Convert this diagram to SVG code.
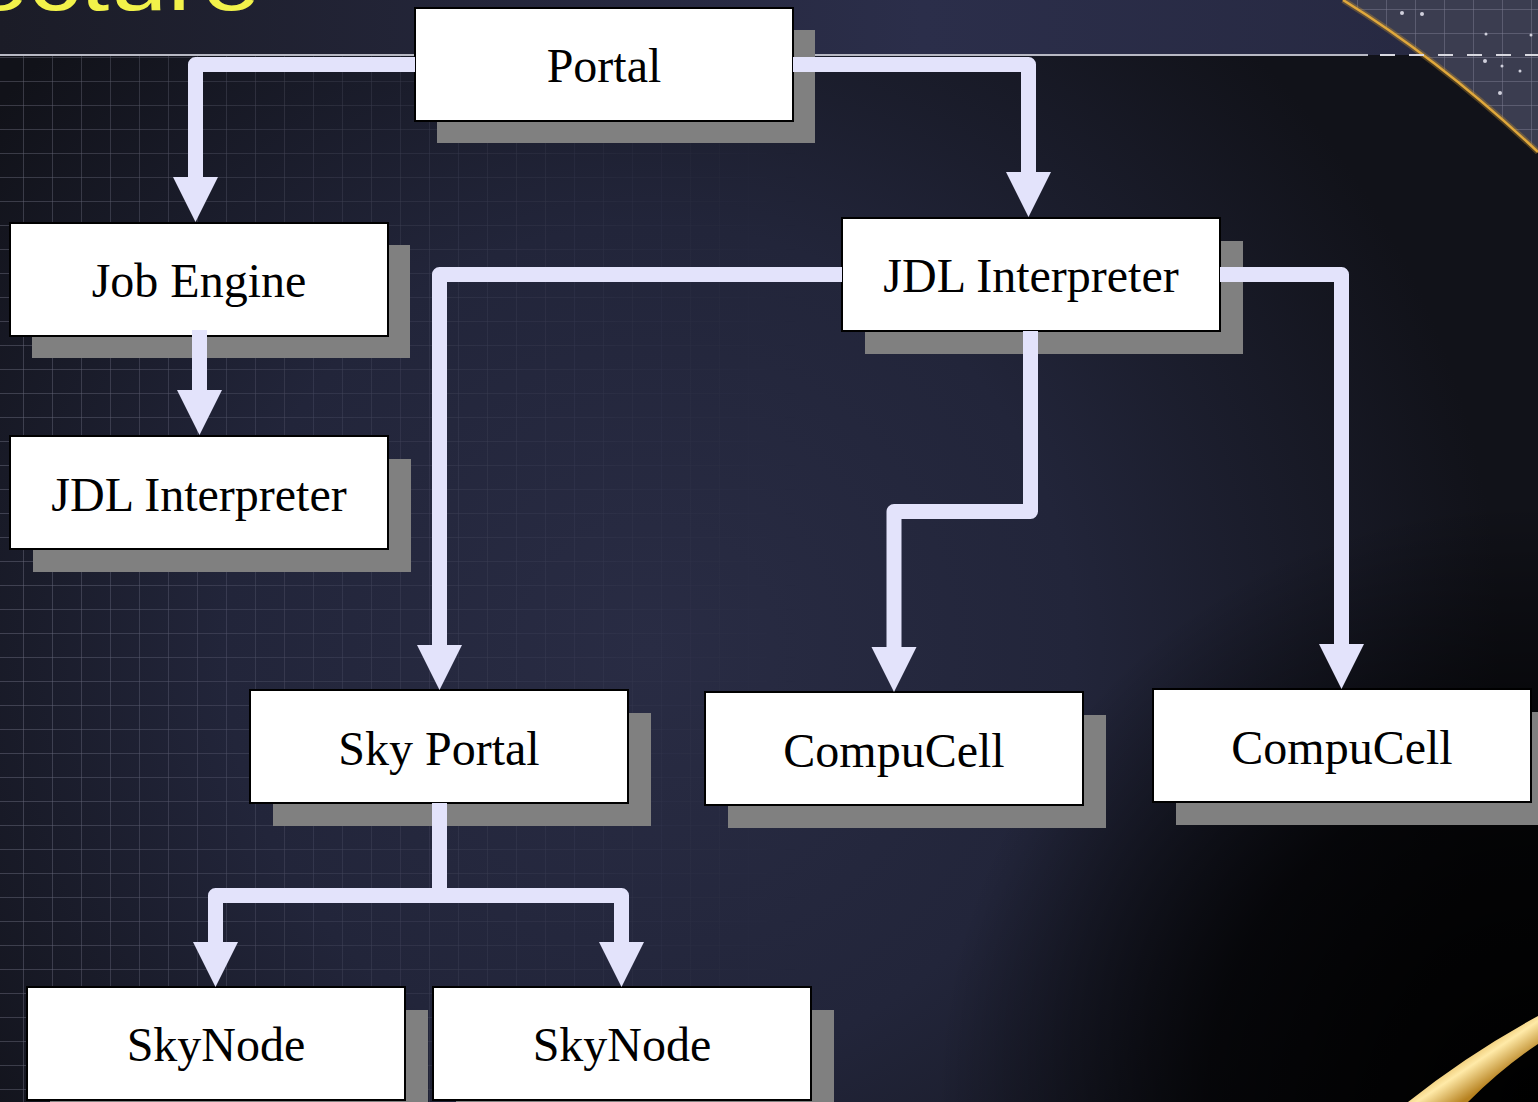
<svg xmlns="http://www.w3.org/2000/svg" width="1538" height="1102" viewBox="0 0 1538 1102">
  <defs>
    <style>
      .shadow { fill: #808080; }
      .box { fill: #ffffff; stroke: #000000; stroke-width: 2; }
      .label { font-family: "Liberation Serif", "Times New Roman", serif; font-size: 48px; fill: #000000; text-anchor: middle; }
      .conn { fill: none; stroke: #e3e3fb; stroke-width: 15; stroke-linejoin: round; stroke-linecap: butt; }
      .grid { stroke: #c8c8e0; stroke-width: 1; }
    </style>
    <marker id="arrow" markerUnits="userSpaceOnUse" markerWidth="46" markerHeight="46" refX="2" refY="22.5" orient="auto" overflow="visible">
      <path d="M0,0 L45,22.5 L0,45 Z" fill="#e3e3fb"/>
    </marker>
    <radialGradient id="bgGlow" cx="650" cy="650" r="850" gradientUnits="userSpaceOnUse">
      <stop offset="0" stop-color="#292c44"/>
      <stop offset="0.5" stop-color="#22253a"/>
      <stop offset="1" stop-color="#111219"/>
    </radialGradient>
    <radialGradient id="brDark" cx="1538" cy="1102" r="600" gradientUnits="userSpaceOnUse">
      <stop offset="0" stop-color="#000000" stop-opacity="1"/>
      <stop offset="0.55" stop-color="#000000" stop-opacity="0.75"/>
      <stop offset="1" stop-color="#000000" stop-opacity="0"/>
    </radialGradient>
    <linearGradient id="topBand" x1="0" y1="0" x2="1" y2="0">
      <stop offset="0" stop-color="#1b1c27"/>
      <stop offset="0.6" stop-color="#2b2e4a"/>
      <stop offset="1" stop-color="#262840"/>
    </linearGradient>
    <pattern id="gridPat" x="23" y="9" width="29" height="24" patternUnits="userSpaceOnUse">
      <path d="M0,0 V24 M0,0 H29" class="grid"/>
    </pattern>
    <linearGradient id="gridFadeH" x1="0" y1="0" x2="800" y2="0" gradientUnits="userSpaceOnUse">
      <stop offset="0" stop-color="#fff" stop-opacity="0.45"/>
      <stop offset="0.4" stop-color="#fff" stop-opacity="0.2"/>
      <stop offset="1" stop-color="#fff" stop-opacity="0"/>
    </linearGradient>
    <mask id="gridMask">
      <rect x="0" y="55" width="800" height="1047" fill="url(#gridFadeH)"/>
    </mask>
    <linearGradient id="goldBand" x1="1440" y1="1030" x2="1480" y2="1090" gradientUnits="userSpaceOnUse">
      <stop offset="0" stop-color="#6e5015"/>
      <stop offset="0.35" stop-color="#d9a43a"/>
      <stop offset="0.65" stop-color="#ffeaa8"/>
      <stop offset="1" stop-color="#b78220"/>
    </linearGradient>
    <clipPath id="cornerClip">
      <path d="M1343,0 Q1440,60 1538,152 L1538,0 Z"/>
    </clipPath>
  </defs>

  <!-- background -->
  <rect x="0" y="0" width="1538" height="1102" fill="url(#bgGlow)"/>
  <rect x="0" y="0" width="1538" height="1102" fill="url(#brDark)"/>
  <rect x="0" y="0" width="1538" height="55" fill="url(#topBand)"/>
  <rect x="0" y="55" width="800" height="1047" fill="url(#gridPat)" mask="url(#gridMask)"/>

  <!-- top right corner panel -->
  <g clip-path="url(#cornerClip)">
    <rect x="1330" y="0" width="208" height="160" fill="#3b3d50"/>
    <rect x="1330" y="0" width="208" height="160" fill="url(#gridPat)" opacity="0.45"/>
    <circle cx="1402" cy="13" r="2" fill="#d0d0dc"/>
    <circle cx="1422" cy="14" r="2" fill="#d0d0dc"/>
    <circle cx="1485" cy="61" r="2" fill="#d0d0dc"/>
    <circle cx="1502" cy="66" r="1.5" fill="#d0d0dc"/>
    <circle cx="1520" cy="71" r="1.5" fill="#d0d0dc"/>
    <circle cx="1500" cy="93" r="2" fill="#d0d0dc"/>
    <circle cx="1486" cy="34" r="1.5" fill="#d0d0dc"/>
    <circle cx="1531" cy="35" r="1.5" fill="#d0d0dc"/>
  </g>
  <path d="M1343,0 Q1440,60 1538,152" fill="none" stroke="#c8952e" stroke-width="6" stroke-opacity="0.35"/>
  <path d="M1343,0 Q1440,60 1538,152" fill="none" stroke="#e0a83c" stroke-width="2.5"/>

  <!-- separator line -->
  <line x1="0" y1="55" x2="1368" y2="55" stroke="#b8b9c4" stroke-width="2"/>
  <line x1="1380" y1="55" x2="1538" y2="55" stroke="#d8d8e0" stroke-width="2" stroke-dasharray="15 14"/>

  <!-- bottom right gold band -->
  <path d="M1408,1102 Q1468,1054 1538,1016 L1538,1044 Q1502,1068 1468,1102 Z" fill="url(#goldBand)"/>

  <!-- partial title -->
  <text x="-30" y="10" font-family="'Liberation Sans', Arial, sans-serif" font-size="84" fill="#f2f24a" textLength="290" lengthAdjust="spacingAndGlyphs">ecture</text>

  <!-- nodes -->
  <g id="node-portal">
    <rect class="shadow" x="437" y="30" width="378" height="113"/>
    <rect class="box" x="415" y="8" width="378" height="113"/>
    <text class="label" x="604" y="82">Portal</text>
  </g>
  <g id="node-job-engine">
    <rect class="shadow" x="32" y="245" width="378" height="113"/>
    <rect class="box" x="10" y="223" width="378" height="113"/>
    <text class="label" x="199" y="297">Job Engine</text>
  </g>
  <g id="node-jdl-left">
    <rect class="shadow" x="33" y="459" width="378" height="113"/>
    <rect class="box" x="10" y="436" width="378" height="113"/>
    <text class="label" x="199" y="511">JDL Interpreter</text>
  </g>
  <g id="node-jdl-right">
    <rect class="shadow" x="865" y="241" width="378" height="113"/>
    <rect class="box" x="842" y="218" width="378" height="113"/>
    <text class="label" x="1031" y="292">JDL Interpreter</text>
  </g>
  <g id="node-sky-portal">
    <rect class="shadow" x="273" y="713" width="378" height="113"/>
    <rect class="box" x="250" y="690" width="378" height="113"/>
    <text class="label" x="439" y="765">Sky Portal</text>
  </g>
  <g id="node-compucell-1">
    <rect class="shadow" x="728" y="715" width="378" height="113"/>
    <rect class="box" x="705" y="692" width="378" height="113"/>
    <text class="label" x="894" y="767">CompuCell</text>
  </g>
  <g id="node-compucell-2">
    <rect class="shadow" x="1176" y="712" width="378" height="113"/>
    <rect class="box" x="1153" y="689" width="378" height="113"/>
    <text class="label" x="1342" y="764">CompuCell</text>
  </g>
  <g id="node-skynode-1">
    <rect class="shadow" x="50" y="1010" width="378" height="113"/>
    <rect class="box" x="27" y="987" width="378" height="113"/>
    <text class="label" x="216" y="1061">SkyNode</text>
  </g>
  <g id="node-skynode-2">
    <rect class="shadow" x="456" y="1010" width="378" height="113"/>
    <rect class="box" x="433" y="987" width="378" height="113"/>
    <text class="label" x="622" y="1061">SkyNode</text>
  </g>

  <!-- connectors -->
  <g id="connectors">
    <path class="conn" d="M415,64.5 H195.5 V179" marker-end="url(#arrow)"/>
    <path class="conn" d="M793,64.5 H1028.5 V174" marker-end="url(#arrow)"/>
    <path class="conn" d="M199.5,330 V392" marker-end="url(#arrow)"/>
    <path class="conn" d="M842,274.5 H439.5 V647" marker-end="url(#arrow)"/>
    <path class="conn" d="M1030.5,331 V511.5 H894 V649" marker-end="url(#arrow)"/>
    <path class="conn" d="M1220,274.5 H1341.5 V646" marker-end="url(#arrow)"/>
    <path class="conn" d="M439.5,803 V895.5 H215.5 V944" marker-end="url(#arrow)"/>
    <path class="conn" d="M439.5,895.5 H621.5 V944" marker-end="url(#arrow)"/>
  </g>
</svg>
